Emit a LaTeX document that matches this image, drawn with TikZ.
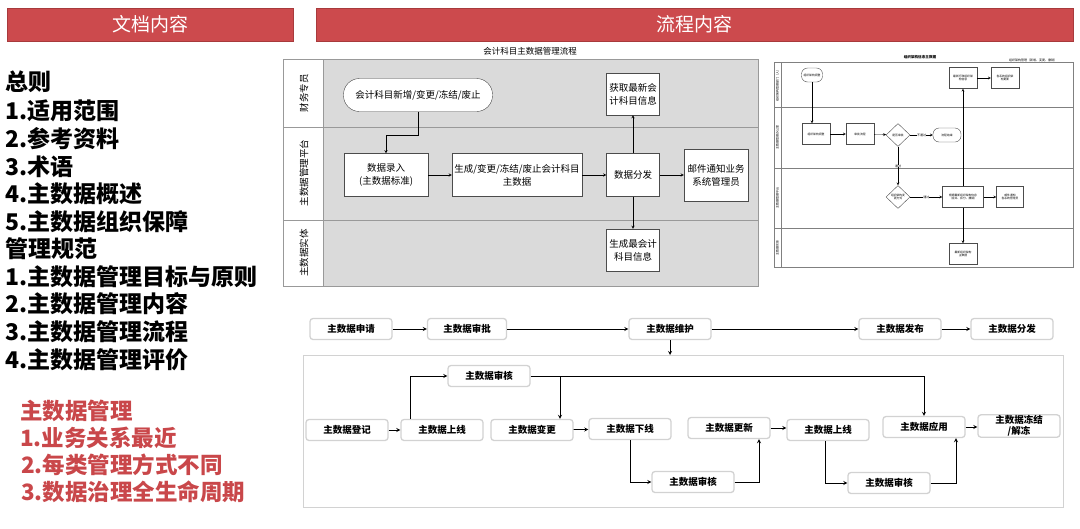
\documentclass[tikz,border=0pt]{standalone}
\usepackage{fontspec}
\setmainfont{Noto Sans CJK SC}
\usetikzlibrary{shapes.geometric}

\definecolor{hdrred}{HTML}{CC4A4D}
\definecolor{hdrline}{HTML}{A83A3C}
\definecolor{keyred}{HTML}{C9474A}
\definecolor{lanegray}{HTML}{DADADA}
\definecolor{boxline}{HTML}{D2D2D2}

\tikzset{
  hdr/.style={draw=hdrline, fill=hdrred, text=white, line width=1pt,
    font=\fontsize{19}{19}\selectfont, inner sep=0pt},
  toc/.style={anchor=west, inner sep=0pt, font=\fontsize{23}{23}\selectfont\bfseries},
  keypt/.style={anchor=west, inner sep=0pt, text=keyred,
    font=\fontsize{22.5}{22.5}\selectfont\bfseries},
  lanetxt/.style={rotate=90, font=\fontsize{9.5}{10}\selectfont},
  proc/.style={draw=black!70, fill=white, align=center, inner sep=1pt,
    font=\fontsize{9.5}{13}\selectfont},
  term/.style={proc, rounded corners=16pt},
  tinytxt/.style={inner sep=0pt, font=\fontsize{3}{3.6}\selectfont},
  tbox/.style={draw=black!70, fill=white, align=center, inner sep=0.5pt,
    minimum width=28pt, minimum height=21pt, font=\fontsize{2.8}{3.4}\selectfont},
  tterm/.style={tbox, rounded corners=6pt, minimum height=14pt},
  tdia/.style={tbox, diamond, minimum width=24pt, minimum height=23pt},
  flowbox/.style={draw=boxline, line width=1.3pt, rounded corners=3pt, fill=white,
    minimum width=82pt, minimum height=21pt, inner sep=1pt, align=center,
    font=\fontsize{9.5}{10.5}\selectfont\bfseries},
  link/.style={->, line width=0.8pt},
}

\begin{document}
\begin{tikzpicture}[x=1pt, y=-1pt, >=stealth]
  \useasboundingbox (0,0) rectangle (1080,528);

  % 标题栏
  \node[hdr, minimum width=286pt, minimum height=33pt] (hdrdoc) at (150,24.5) {文档内容};
  \node[hdr, minimum width=757pt, minimum height=33pt] (hdrflow) at (694.5,24.5) {流程内容};

  % 文档目录
  \foreach \i/\y/\t in {1/82/总则, 2/111/1.适用范围, 3/139/2.参考资料, 4/167/3.术语,
      5/194/4.主数据概述, 6/222/5.主数据组织保障, 7/249/管理规范,
      8/277/1.主数据管理目标与原则, 9/304/2.主数据管理内容,
      10/332/3.主数据管理流程, 11/360/4.主数据管理评价}
    \node[toc] (toc\i) at (5,\y) {\t};

  % 要点
  \node[keypt] (key1) at (20,411) {主数据管理};
  \node[keypt] (key2) at (20,438) {1.业务关系最近};
  \node[keypt] (key3) at (21,465) {2.每类管理方式不同};
  \node[keypt] (key4) at (21,492) {3.数据治理全生命周期};

  % 会计科目泳道图
  \node[font=\fontsize{8.5}{9}\selectfont, inner sep=0pt] (title1) at (530,51) {会计科目主数据管理流程};
  \draw[gray!80, fill=white] (283,59) rectangle (758,286);
  \fill[lanegray] (323,59) rectangle (758,286);
  \draw[gray!80] (283,59) rectangle (758,286);
  \draw[gray!80] (323,59) -- (323,286);
  \draw[gray!80] (283,127) -- (758,127);
  \draw[gray!80] (283,220) -- (758,220);
  \node[lanetxt] (lane1) at (304,93) {财务专员};
  \node[lanetxt] (lane2) at (304,173) {主数据管理平台};
  \node[lanetxt] (lane3) at (304,253) {主数据实体};

  \node[term, minimum width=149pt, minimum height=33pt] (apply) at (418,95) {会计科目新增/变更/冻结/废止};
  \node[proc, minimum width=53pt, minimum height=42pt] (fetch) at (633,94) {获取最新会\\计科目信息};
  \node[proc, minimum width=84pt, minimum height=43pt] (entry) at (386,175) {数据录入\\(主数据标准)};
  \node[proc, minimum width=130pt, minimum height=43pt] (gen) at (517,175) {生成/变更/冻结/废止会计科目\\主数据};
  \node[proc, minimum width=53pt, minimum height=43pt] (dist) at (633,175) {数据分发};
  \node[proc, minimum width=64pt, minimum height=52pt] (mail) at (716,175) {邮件通知业务\\系统管理员};
  \node[proc, minimum width=53pt, minimum height=42pt] (newinfo) at (633,250) {生成最会计\\科目信息};

  \draw[->] (apply.south) -- ++(0,23) -| (entry.north);
  \draw[->] (entry) -- (gen);
  \draw[->] (gen) -- (dist);
  \draw[->] (dist) -- (mail);
  \draw[->] (dist) -- (fetch);
  \draw[->] (dist) -- (newinfo);

  % 组织架构泳道图（缩略）
  \node[tinytxt, font=\fontsize{3.6}{4}\selectfont\bfseries] (title2) at (920,57) {组织架构信息主数据};
  \node[tinytxt] (title2r) at (1033,60) {组织架构管理（新增、变更、撤销）};
  \draw[gray] (774,62) rectangle (1073,267);
  \draw[gray] (781,62) -- (781,267);
  \draw[gray, line width=0.9pt] (774,107) -- (1073,107);
  \draw[gray, line width=0.9pt] (774,168) -- (1073,168);
  \draw[gray, line width=0.9pt] (774,228) -- (1073,228);
  \node[tinytxt, rotate=90] (olane1) at (777.5,85) {组织架构管理部门（人）};
  \node[tinytxt, rotate=90] (olane2) at (777.5,137) {主数据管理办公室};
  \node[tinytxt, rotate=90] (olane3) at (777.5,198) {主数据管理平台};
  \node[tinytxt, rotate=90] (olane4) at (777.5,248) {主数据实体};

  \node[tterm, minimum width=21pt] (o1) at (812,75) {组织架构调整};
  \node[tbox] (o2) at (963,78) {最新行政组织架\\构信息};
  \node[tbox] (o3) at (1005,78) {各系统组织架\\构更新};
  \node[tbox] (o4) at (816,134) {组织架构调整};
  \node[tbox] (o5) at (860,134) {审批流程};
  \node[tdia] (o6) at (898,135) {是否审批};
  \node[tterm] (o7) at (947,135) {流程结束};
  \node[tdia] (o8) at (898,197) {组织架构变\\更方式};
  \node[tbox, minimum width=41pt] (o9) at (963,197) {根据最新组织架构信息\\（合并、拆分、撤销）};
  \node[tbox, minimum width=27pt] (o10) at (1010,197) {邮件通知\\各系统管理员};
  \node[tbox] (o11) at (963,254) {最新组织架构\\主数据};

  \draw[->, line width=0.3pt] (o1.south) -- (o1.south |- o4.north);
  \draw[->, line width=0.3pt] (o4) -- (o5);
  \draw[->, line width=0.3pt] (o5) -- (o6);
  \draw[->, line width=0.3pt] (o6) -- node[tinytxt, fill=white] {不通过} (o7);
  \draw[->, line width=0.3pt] (o6) -- node[tinytxt, fill=white, pos=0.5] {通过} (o8);
  \draw[->, line width=0.3pt] (o8) -- node[tinytxt, fill=white] {通过} (o9);
  \draw[->, line width=0.3pt] (o9) -- (o10);
  \draw[->, line width=0.3pt] (o9) -- (o2);
  \draw[->, line width=0.3pt] (o9) -- (o11);
  \draw[->, line width=0.3pt] (o2) -- (o3);

  % 主数据管理主线
  \node[flowbox] (req) at (351,329) {主数据申请};
  \node[flowbox, minimum width=79pt] (appr) at (467,329) {主数据审批};
  \node[flowbox] (maint) at (670,329) {主数据维护};
  \node[flowbox] (pub) at (900,329) {主数据发布};
  \node[flowbox] (disp) at (1012,329) {主数据分发};
  \draw[link] (req) -- (appr);
  \draw[link] (appr) -- (maint);
  \draw[link] (maint) -- (pub);
  \draw[link] (pub) -- (disp);

  % 维护明细
  \draw[boxline, line width=0.8pt] (303,355) rectangle (1063,507);
  \coordinate (ftop) at (670,355);
  \draw[link] (maint.south) -- (ftop);

  \node[flowbox] (reg) at (347,430) {主数据登记};
  \node[flowbox] (on1) at (442,430) {主数据上线};
  \node[flowbox] (aud1) at (489,376) {主数据审核};
  \node[flowbox] (chg) at (532,430) {主数据变更};
  \node[flowbox] (off) at (630,429) {主数据下线};
  \node[flowbox] (aud2) at (693,482) {主数据审核};
  \node[flowbox] (upd) at (729,428) {主数据更新};
  \node[flowbox] (on2) at (828,430) {主数据上线};
  \node[flowbox] (use) at (924,427) {主数据应用};
  \node[flowbox] (frz) at (1019,426) {主数据冻结\\/解冻};
  \node[flowbox] (aud3) at (889,483) {主数据审核};

  \draw[link] (reg) -- (on1);
  \draw[link] ([xshift=-32pt]on1.north) |- (aud1.west);
  \draw[link] (aud1.east) -| (use.north);
  \coordinate (split) at (560,376);
  \draw[link] (split) -- (split |- chg.north);
  \draw[link] (chg) -- (off);
  \draw[link] (off.south) |- (aud2.west);
  \draw[link] (aud2.east) -| ([xshift=30pt]upd.south);
  \draw[link] (upd.east) -- (upd.east -| on2.west);
  \draw[link] ([xshift=-3pt]on2.south) |- (aud3.west);
  \draw[link] (aud3.east) -| ([xshift=32pt]use.south);
  \draw[link] (use.east) -- (use.east -| frz.west);
\end{tikzpicture}
\end{document}
